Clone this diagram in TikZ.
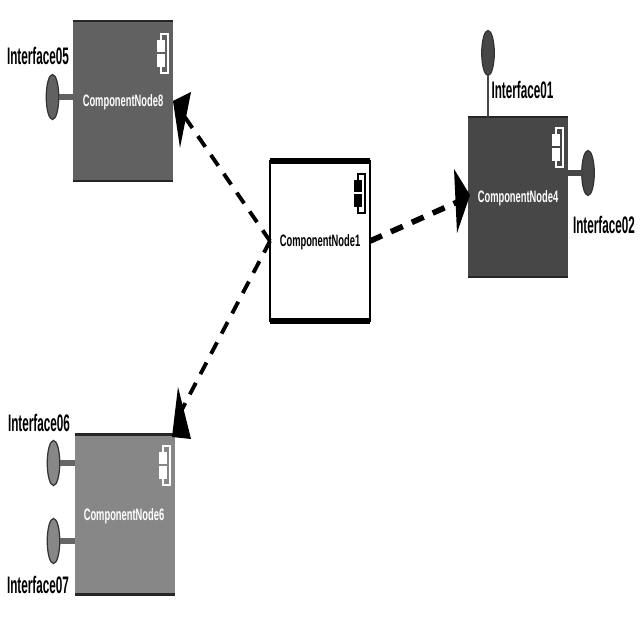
\documentclass[tikz,border=0pt]{standalone}
\usepackage{fontspec}
\usepackage{graphicx}
\setmainfont{Liberation Sans}
\usetikzlibrary{shapes.geometric}
\newcommand{\complabeltext}[1]{\scalebox{.565}[1]{\bfseries\fontsize{4.7}{5}\selectfont #1}}
\newcommand{\iflabeltext}[1]{\scalebox{.49}[1]{\bfseries\fontsize{6.8}{7}\selectfont #1}}
\tikzset{
  x=0.01cm,y=-0.01cm,
  compbox/.style={draw=none,inner sep=0pt,outer sep=0pt,minimum width=1cm,minimum height=1.6cm},
  complabel/.style={inner sep=0pt},
  iflabel/.style={inner sep=0pt,text=black},
  lollipop/.style={draw=black!80,line width=.35pt,fill=#1,ellipse,minimum width=.125cm,minimum height=.45cm,inner sep=0pt,outer sep=0pt},
  stem/.style={line width=1.8pt},
  depline/.style={draw=black,line width=1.1pt,dash pattern=on 3.7pt off 2.8pt},
  head/.style={fill=black,draw=none},
}
% component badge: a bracket with two small blocks, placed by its top-left corner
\newcommand{\badge}[4]{% x, y, bracket colour, block colour
  \draw[#3,line width=.5pt] (#1+4,#2+7) -- (#1+4,#2+1) -- (#1+11,#2+1) -- (#1+11,#2+40) -- (#1+4,#2+40) -- (#1+4,#2+34);
  \fill[#4] (#1,#2+7) rectangle (#1+8,#2+19);
  \fill[#4] (#1,#2+21) rectangle (#1+8,#2+34);
}
\begin{document}
\begin{tikzpicture}
\useasboundingbox (0,0) rectangle (640,640);
\fill[white] (0,0) rectangle (640,640);

% component bodies
\node[compbox,fill=black!62,anchor=north west] (n8) at (73,21) {};
\node[compbox,fill=white,draw=black,line width=.6pt,anchor=north west] (n1) at (270,161) {};
\node[compbox,fill=black!72,anchor=north west] (n4) at (468,117) {};
\node[compbox,fill=black!47,anchor=north west] (n6) at (75,434.5) {};

% heavy top and bottom edges
\foreach \n in {n8,n4,n6} {
  \draw[line width=.8pt,black!85] (\n.north west) -- (\n.north east);
  \draw[line width=.8pt,black!85] (\n.south west) -- (\n.south east);
}
\draw[line width=1.7pt,black] (n1.north west) -- (n1.north east);
\draw[line width=1.7pt,black] (n1.south west) -- (n1.south east);

% component labels
\node[complabel,text=white] (t8) at (123,102) {\complabeltext{ComponentNode8}};
\node[complabel,text=black] (t1) at (320,242) {\complabeltext{ComponentNode1}};
\node[complabel,text=white] (t4) at (518,198) {\complabeltext{ComponentNode4}};
\node[complabel,text=white] (t6) at (124,516) {\complabeltext{ComponentNode6}};

% component badges
\badge{157}{33}{white}{white}
\badge{354}{173}{black}{black}
\badge{552}{127}{white}{white}
\badge{159}{445}{white}{white}

% interface circles and their stems
\node[lollipop=black!62] (i5) at (52.5,97) {};
\node[lollipop=black!72] (i1) at (488,53) {};
\node[lollipop=black!72] (i2) at (588,173) {};
\node[lollipop=black!47] (i6) at (53.5,463) {};
\node[lollipop=black!47] (i7) at (53.5,541) {};
\draw[stem,black!62] (i5.east) -- (i5.east -| n8.west);
\draw[line width=.7pt,black!72] (i1.south) -- (i1.south |- n4.north);
\draw[stem,black!72] (i2.west) -- (i2.west -| n4.east);
\draw[stem,black!60] (i6.east) -- (i6.east -| n6.west);
\draw[stem,black!60] (i7.east) -- (i7.east -| n6.west);

% interface labels
\node[iflabel] (l5) at (38,56) {\iflabeltext{Interface05}};
\node[iflabel] (l1) at (522.5,90) {\iflabeltext{Interface01}};
\node[iflabel] (l2) at (604,225) {\iflabeltext{Interface02}};
\node[iflabel] (l6) at (39,423) {\iflabeltext{Interface06}};
\node[iflabel] (l7) at (38,585) {\iflabeltext{Interface07}};

% dependency connectors and their filled heads
\coordinate (a8) at (180,110);
\coordinate (a4) at (462,200);
\coordinate (a6) at (178,417);
\draw[depline] (n1.west) -- (a8);
\draw[depline,line width=1.6pt] (n1.east) -- (a4);
\draw[depline] (n1.west) -- (a6);
\fill[head] (173,101) -- (191,92) -- (180,148) -- cycle;
\fill[head] (454,169) -- (470,195) -- (457,233) -- cycle;
\fill[head] (172,437) -- (191,439) -- (178,387) -- cycle;
\end{tikzpicture}
\end{document}
